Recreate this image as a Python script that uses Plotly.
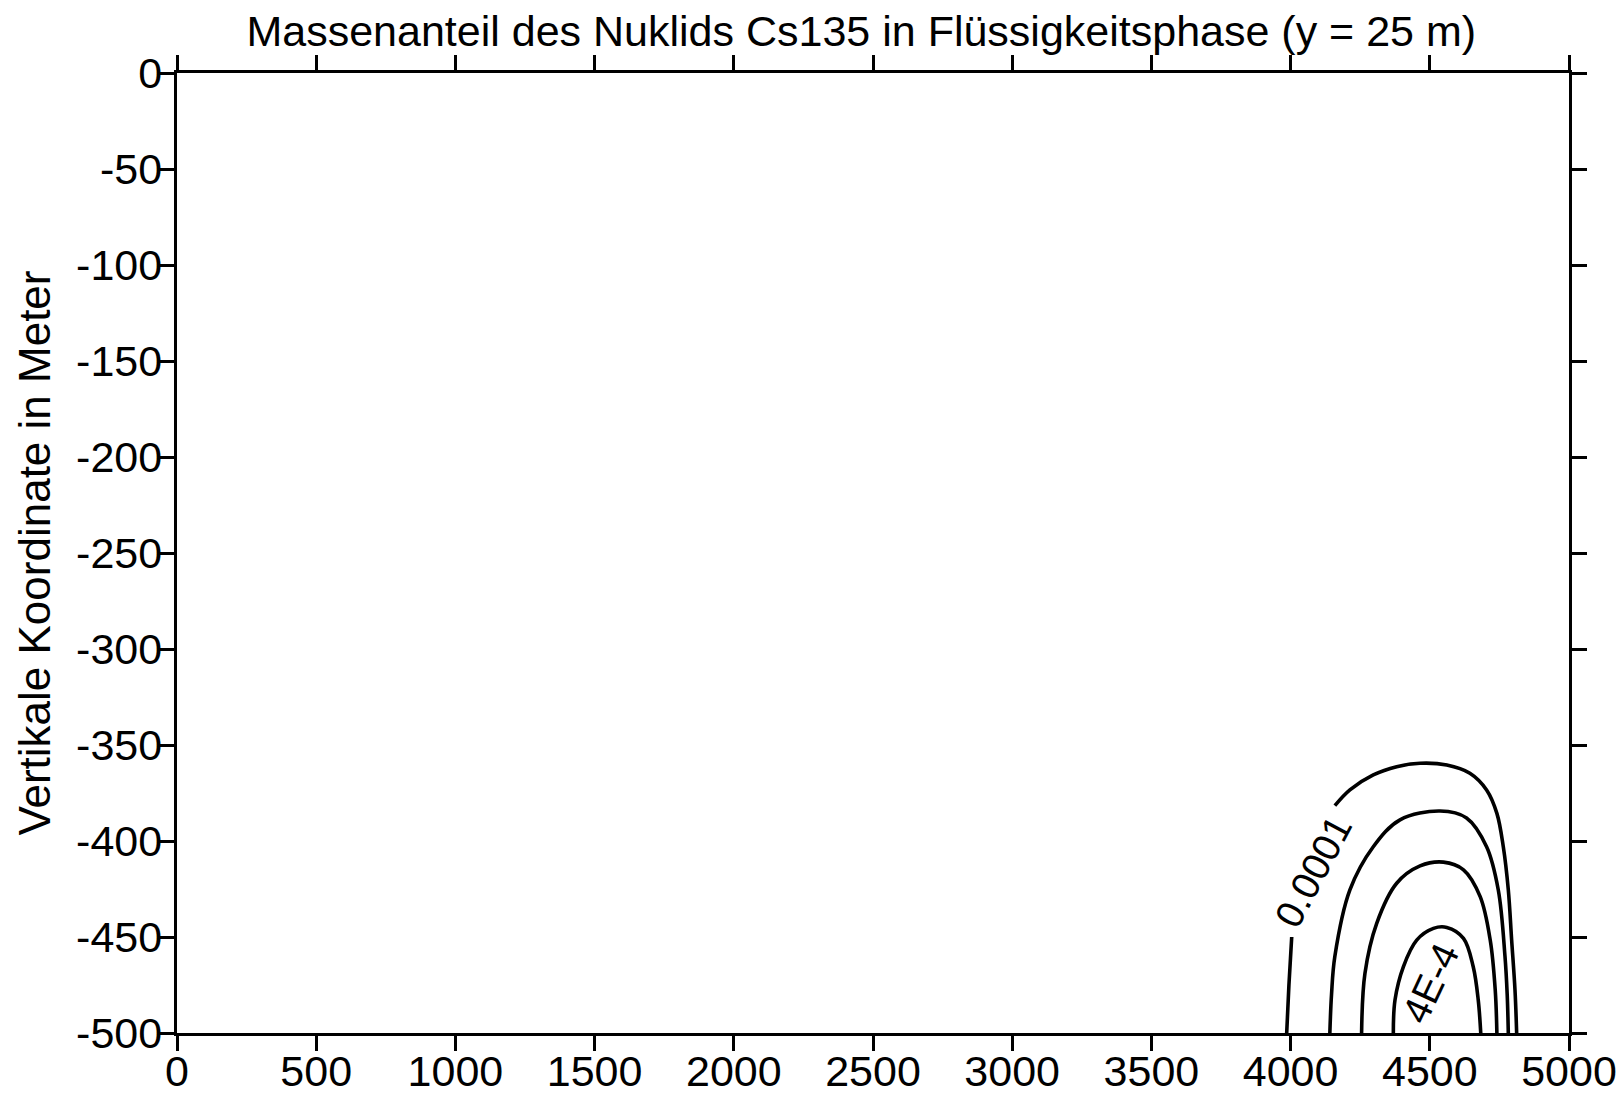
import plotly.graph_objects as go

# contour lines (x in m, vertical coordinate in m)
c1_x = [3986, 3994, 4004, None, 4159, 4213, 4297, 4381, 4465, 4561, 4644, 4704, 4741, 4764, 4782, 4794, 4806, 4812]
c1_y = [-500, -475, -450, None, -381.6, -373.4, -365.6, -361.3, -359.5, -360.4, -364.7, -373.4, -385.6, -403, -425.5, -451.6, -477.6, -500]
c2_x = [4141, 4147, 4159, 4213, 4297, 4393, 4537, 4632, 4704, 4746, 4770, 4778, 4782]
c2_y = [-500, -480, -460, -425.5, -403, -389, -384.4, -388, -403, -425.5, -460, -480, -500]
c3_x = [4255, 4267, 4309, 4381, 4465, 4549, 4621, 4681, 4717, 4735, 4741]
c3_y = [-500, -469, -443, -422, -413, -411, -415, -429, -451.6, -477.6, -500]
c4_x = [4369, 4375, 4405, 4453, 4513, 4561, 4621, 4656, 4674, 4683]
c4_y = [-500, -482.8, -465.5, -451.6, -445.5, -445, -450.7, -465.5, -482.8, -500]

contour_labels = ["0.0001", "4E-4"]
label_x = [4082, 4501]
label_y = [-416, -474]
label_angle = [-62, -65]

x_ticks = list(range(0, 5001, 500))
y_ticks = list(range(-500, 1, 50))
y_ticktext = [str(v) for v in y_ticks]  # plain hyphen, not unicode minus

FONT = "Liberation Sans, Arial, sans-serif"

fig = go.Figure()
for xs, ys in [(c1_x, c1_y), (c2_x, c2_y), (c3_x, c3_y), (c4_x, c4_y)]:
    fig.add_trace(go.Scatter(
        x=xs, y=ys,
        mode='lines',
        line=dict(color='black', width=3.6, shape='spline', smoothing=1),
        showlegend=False,
        hoverinfo='skip',
    ))

for txt, lx, ly, ang in zip(contour_labels, label_x, label_y, label_angle):
    fig.add_annotation(x=lx, y=ly, text=txt, textangle=ang, showarrow=False,
                       font=dict(family=FONT, size=39, color='black'))

axis_style = dict(
    showline=True, linecolor='black', linewidth=3.4,
    mirror='ticks', ticks='outside', ticklen=15, tickwidth=3.4, tickcolor='black',
    showgrid=False, zeroline=False, automargin=False,
    tickfont=dict(family=FONT, size=43, color='black'),
)
fig.update_xaxes(range=[0, 5000], tickvals=x_ticks, ticklabelstandoff=-17, **axis_style)
fig.update_yaxes(range=[-500, 0], tickvals=y_ticks, ticktext=y_ticktext,
                 ticklabelstandoff=-12,
                 title=dict(text="Vertikale Koordinate in Meter", standoff=12,
                            font=dict(family=FONT, size=44, color='black')),
                 **axis_style)

fig.update_layout(
    width=1622, height=1095,
    margin=dict(l=177, r=53, t=73, b=62),
    plot_bgcolor='white', paper_bgcolor='white',
    title=dict(text="Massenanteil des Nuklids Cs135 in Flüssigkeitsphase (y = 25 m)",
               x=0.531, xanchor='center', y=0.972, yanchor='middle',
               font=dict(family=FONT, size=43, color='black')),
)

fig.write_html("out.html", config={'displayModeBar': False},
               post_script="document.body.style.margin='0px';")
